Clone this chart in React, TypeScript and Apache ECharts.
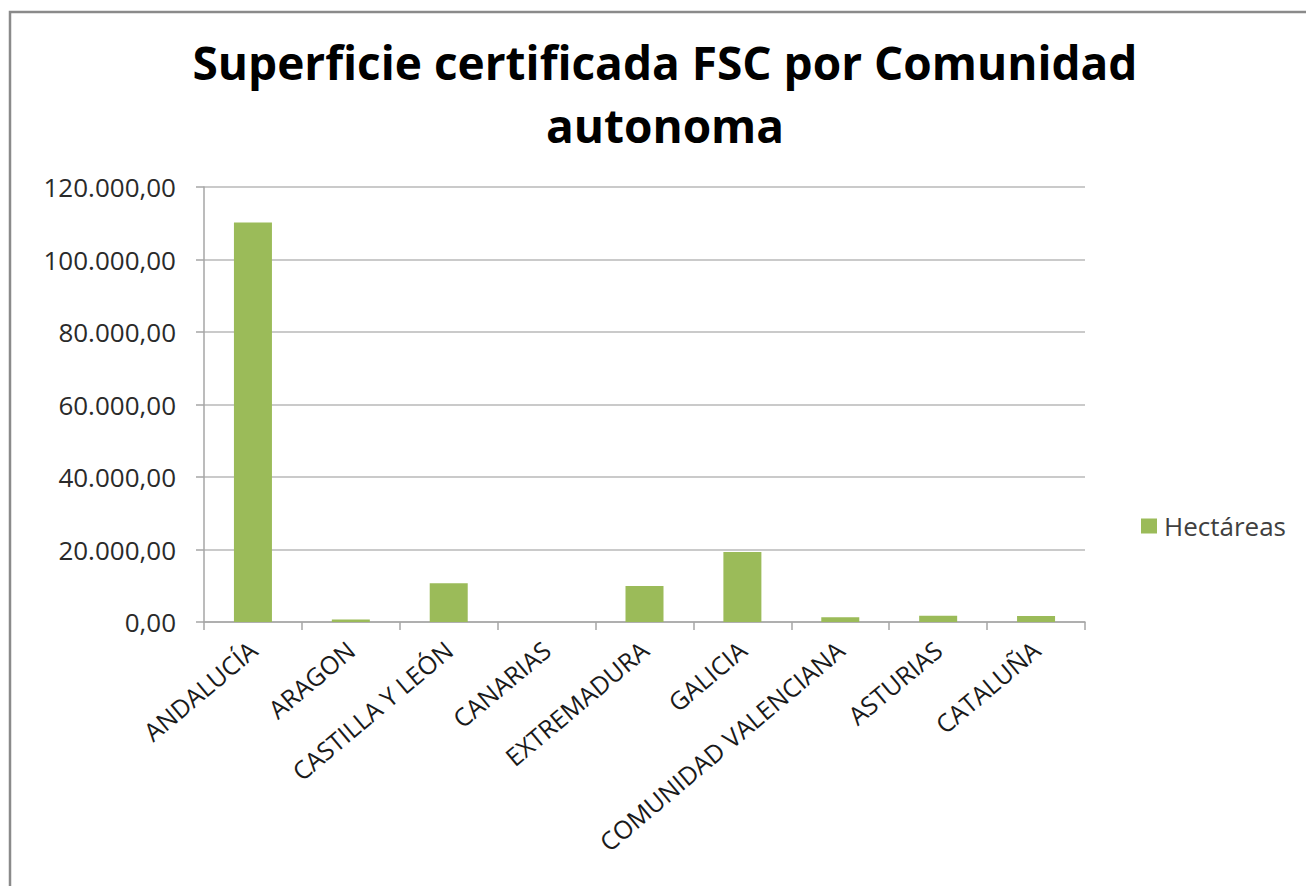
import React, { useEffect, useRef } from "react";
import * as echarts from "echarts";

const titleLines = ["Superficie certificada FSC por Comunidad", "autonoma"];
const categories = [
  "ANDALUCÍA",
  "ARAGON",
  "CASTILLA Y LEÓN",
  "CANARIAS",
  "EXTREMADURA",
  "GALICIA",
  "COMUNIDAD VALENCIANA",
  "ASTURIAS",
  "CATALUÑA",
];
const hectareas = [110200, 700, 10700, 0, 9900, 19300, 1300, 1700, 1650];
const seriesName = "Hectáreas";

function fmt(v: number): string {
  const s = Math.round(v).toString().replace(/\B(?=(\d{3})+(?!\d))/g, ".");
  return s + ",00";
}

export default function App() {
  const ref = useRef<HTMLDivElement>(null);
  useEffect(() => {
    if (!ref.current) return;
    const chart = echarts.init(ref.current, null, { renderer: "svg" });
    const font = "'Open Sans', sans-serif";
    const titleStyle = {
      fontFamily: font,
      fontSize: 46,
      fontWeight: "bold",
      color: "#000000",
      lineHeight: 60,
    };
    chart.setOption({
      animation: false,
      backgroundColor: "#ffffff",
      textStyle: { fontFamily: font },
      title: [
        { text: titleLines[0], left: 665, top: 32, textAlign: "center", padding: 0, textStyle: titleStyle },
        { text: titleLines[1], left: 665, top: 95, textAlign: "center", padding: 0, textStyle: titleStyle },
      ],
      graphic: [
        {
          type: "rect",
          shape: { x: 10, y: 12, width: 1320, height: 900 },
          style: { fill: "none", stroke: "#8a8a8a", lineWidth: 2.5 },
          silent: true,
        },
      ],
      legend: {
        orient: "vertical",
        left: 1136,
        top: 508,
        itemWidth: 16,
        itemHeight: 15,
        itemGap: 10,
        icon: "rect",
        textStyle: { fontFamily: font, fontSize: 26, color: "#404040", padding: [0, 0, 0, 2] },
        data: [seriesName],
      },
      grid: { left: 204, right: 221, top: 187, bottom: 264, containLabel: false },
      xAxis: {
        type: "category",
        data: categories,
        axisLine: { show: true, lineStyle: { color: "#a6a6a6", width: 1.5 } },
        axisTick: { show: true, length: 8, alignWithLabel: false, lineStyle: { color: "#a6a6a6", width: 1.5 } },
        axisLabel: {
          rotate: 40,
          interval: 0,
          fontFamily: font,
          fontSize: 25,
          color: "#1a1a1a",
          margin: 24,
        },
      },
      yAxis: {
        type: "value",
        min: 0,
        max: 120000,
        interval: 20000,
        axisLine: { show: true, lineStyle: { color: "#a6a6a6", width: 1.5 } },
        axisTick: { show: true, length: 8, lineStyle: { color: "#a6a6a6", width: 1.5 } },
        splitLine: { show: true, lineStyle: { color: "#b8b8b8", width: 1.5 } },
        axisLabel: {
          formatter: (v: number) => fmt(v),
          fontFamily: font,
          fontSize: 26,
          color: "#2a2a2a",
          margin: 28,
        },
      },
      series: [
        {
          name: seriesName,
          type: "bar",
          data: hectareas,
          barWidth: 38,
          itemStyle: { color: "#9bbb59" },
        },
      ],
    });
    return () => chart.dispose();
  }, []);
  return (
    <div
      ref={ref}
      style={{ position: "fixed", left: 0, top: 0, width: 1306, height: 886 }}
    />
  );
}
